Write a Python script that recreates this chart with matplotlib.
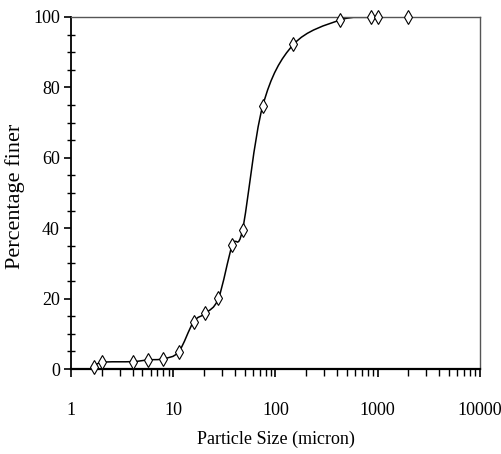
import numpy as np
import matplotlib
matplotlib.use("Agg")
from matplotlib import pyplot as plt
from matplotlib.path import Path
from matplotlib.patches import PathPatch
from matplotlib.ticker import FixedLocator, NullFormatter, LogLocator

# particle size (micron) and percentage finer
size_um = [1.68, 2.0, 4.0, 5.7, 8.0, 11.3, 15.8, 20.6, 27.7, 37.8, 47.6,
           75, 150, 425, 850, 1000, 2000]
pct_finer = [0.5, 1.9, 2.1, 2.6, 2.9, 4.9, 13.4, 15.8, 20.1, 35.2, 39.5,
             74.7, 92.2, 99.1, 99.9, 99.9, 100]

x_ticks = [1, 10, 100, 1000, 10000]
x_tick_labels = ["1", "10", "100", "1000", "10000"]
y_ticks = [0, 20, 40, 60, 80, 100]

plt.rcParams['font.family'] = ['Liberation Serif', 'DejaVu Serif']


def smooth_path(xs, ys, tension=0.5):
    # Catmull-Rom style bezier in log-x space (like a spreadsheet "smoothed line")
    lx = np.log10(xs)
    y = np.asarray(ys, dtype=float)
    n = len(lx)
    verts = [(xs[0], y[0])]
    codes = [Path.MOVETO]
    for i in range(n - 1):
        p0 = (lx[i - 1], y[i - 1]) if i > 0 else (lx[i], y[i])
        p1 = (lx[i], y[i])
        p2 = (lx[i + 1], y[i + 1])
        p3 = (lx[i + 2], y[i + 2]) if i + 2 < n else p2
        c1 = (p1[0] + (p2[0] - p0[0]) * tension / 3, p1[1] + (p2[1] - p0[1]) * tension / 3)
        c2 = (p2[0] - (p3[0] - p1[0]) * tension / 3, p2[1] - (p3[1] - p1[1]) * tension / 3)
        for c in (c1, c2, p2):
            verts.append((10 ** c[0], c[1]))
        codes += [Path.CURVE4] * 3
    return Path(verts, codes)


fig = plt.figure(figsize=(5.01, 4.54), dpi=100)
ax = fig.add_axes([0.1417, 0.1872, 0.8163, 0.7754])

ax.set_xscale('log')
ax.set_xlim(1, 10000)
ax.set_ylim(0, 100)

ax.add_patch(PathPatch(smooth_path(size_um, pct_finer), fill=False, lw=1.1,
                       edgecolor='black', zorder=2))
ax.plot(size_um, pct_finer, ls='none', marker='d', ms=7, mfc='white',
        mec='black', mew=0.8, zorder=3, clip_on=False)

for side in ('top', 'right'):
    ax.spines[side].set_color('#555555')
    ax.spines[side].set_linewidth(1.0)
ax.spines['bottom'].set_linewidth(1.6)
ax.spines['left'].set_linewidth(1.3)

ax.xaxis.set_major_locator(FixedLocator(x_ticks))
ax.set_xticklabels(x_tick_labels)
ax.xaxis.set_minor_locator(LogLocator(base=10, subs=np.arange(2, 10)))
ax.xaxis.set_minor_formatter(NullFormatter())
ax.set_yticks(y_ticks)
ax.yaxis.set_minor_locator(FixedLocator(np.arange(0, 101, 5)))

ax.tick_params(axis='x', which='major', direction='out', length=6, width=1.2,
               pad=18, labelsize=13, top=False)
ax.tick_params(axis='x', which='minor', direction='out', length=5, width=1.0, top=False)
ax.tick_params(axis='y', which='major', direction='out', length=5, width=1.2,
               pad=3, labelsize=13, right=False)
ax.tick_params(axis='y', which='minor', direction='inout', length=6, width=1.0, right=False)

ax.set_xlabel('Particle Size (micron)', fontsize=13, labelpad=8)
ax.set_ylabel('Percentage finer', fontsize=16)
ax.yaxis.set_label_coords(-0.112, 0.49)

plt.savefig('out.png', dpi=100)
